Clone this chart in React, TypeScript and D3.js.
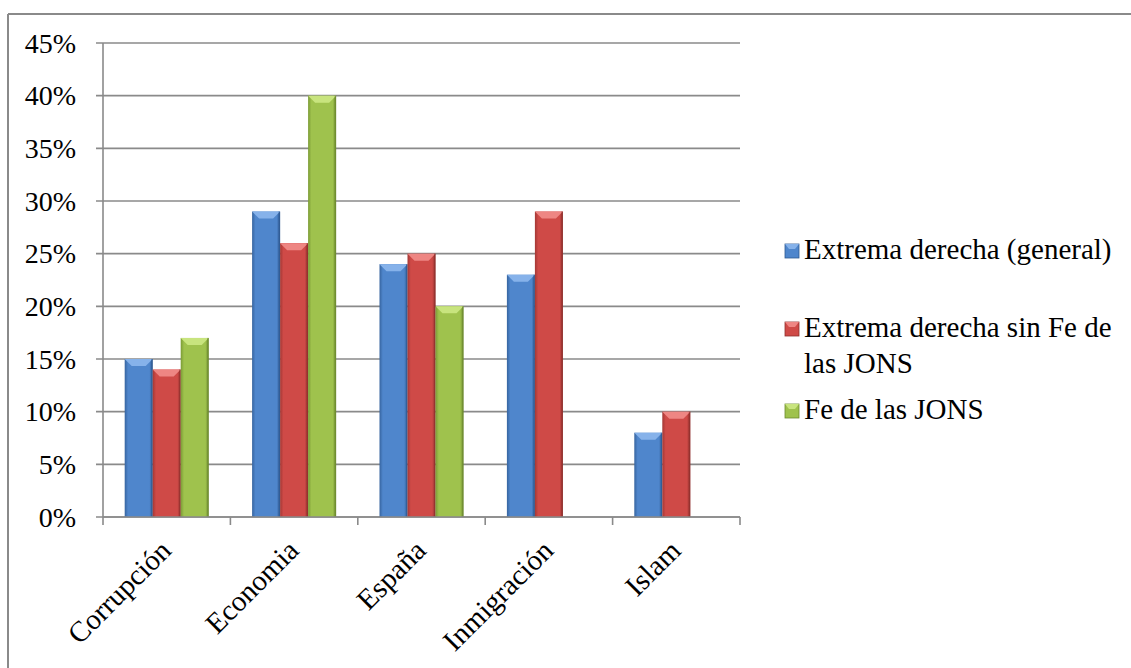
import React from "react";
import * as d3 from "d3";

const categories = ["Corrupción", "Economia", "España", "Inmigración", "Islam"];
const seriesNames = ["Extrema derecha (general)", "Extrema derecha sin Fe de las JONS", "Fe de las JONS"];
const generalValues = [0.15, 0.29, 0.24, 0.23, 0.08];
const sinFeValues = [0.14, 0.26, 0.25, 0.29, 0.10];
const feValues: (number | null)[] = [0.17, 0.40, 0.20, null, null];
const yTicks = [0, 0.05, 0.1, 0.15, 0.2, 0.25, 0.3, 0.35, 0.4, 0.45];
const legendLines = [["Extrema derecha (general)"], ["Extrema derecha sin Fe de", "las JONS"], ["Fe de las JONS"]];

const palettes = [
  { mid: "#4f86cc", edge: "#36649f", top: "#86b2ea", dark: "#2f5a92" },
  { mid: "#cf4a47", edge: "#a33835", top: "#ee8683", dark: "#8f302d" },
  { mid: "#9fc24d", edge: "#7b9b35", top: "#c8e47e", dark: "#6d8a2e" },
];

const W = 1131;
const H = 668;
const left = 103, right = 740, top = 43, bottom = 517;
const FONT = "Liberation Serif";
const txt = { fontFamily: FONT };

export default function App() {
  const series = [generalValues, sinFeValues, feValues];
  const x = d3.scaleBand<string>().domain(categories).range([left, right]).padding(0);
  const band = x.bandwidth();
  const barW = band * (28 / 127.4);
  const inner = d3.scaleBand<number>().domain([0, 1, 2]).range([(band - 3 * barW) / 2, (band + 3 * barW) / 2]).padding(0);
  const y = d3.scaleLinear().domain([0, 0.45]).range([bottom, top]);
  const fmt = d3.format(".0%");
  const gray = "#8a8a8a";

  return (
    <svg width={W} height={H} style={{ display: "block", position: "absolute", left: 0, top: 0 }}>
      <defs>
        {palettes.map((p, i) => (
          <linearGradient key={i} id={`g${i}`} x1="0" x2="1" y1="0" y2="0">
            <stop offset="0" stopColor={p.edge} />
            <stop offset="0.12" stopColor={p.mid} />
            <stop offset="0.5" stopColor={p.mid} />
            <stop offset="0.88" stopColor={p.mid} />
            <stop offset="1" stopColor={p.dark} />
          </linearGradient>
        ))}
      </defs>
      <rect x={0} y={0} width={W} height={H} fill="#fff" />
      <line x1={8} x2={W} y1={14} y2={14} stroke={gray} strokeWidth={2} />
      <line x1={8} x2={8} y1={14} y2={H} stroke={gray} strokeWidth={2} />

      {yTicks.map((t) => (
        <line key={t} x1={left - 7} x2={right} y1={y(t)} y2={y(t)} stroke={gray} strokeWidth={1.6} />
      ))}
      <line x1={left} x2={left} y1={top} y2={bottom} stroke={gray} strokeWidth={1.6} />
      {yTicks.map((t) => (
        <text key={t} x={76} y={y(t)} dy="0.35em" textAnchor="end" fontSize={28} fill="#000" style={txt}>
          {fmt(t)}
        </text>
      ))}

      {series.map((vals, si) =>
        categories.map((c, ci) => {
          const v = vals[ci];
          if (v == null) return null;
          const bx = (x(c) as number) + (inner(si) as number);
          const by = y(v);
          const bh = bottom - by;
          const p = palettes[si];
          const bev = Math.min(7, bh / 2);
          return (
            <g key={`${si}-${ci}`}>
              <rect x={bx} y={by} width={barW} height={bh} fill={`url(#g${si})`} />
              <polygon
                points={`${bx},${by} ${bx + barW},${by} ${bx + barW - 7},${by + bev} ${bx + 7},${by + bev}`}
                fill={p.top}
              />
              <rect x={bx + barW - 1.5} y={by} width={1.5} height={bh} fill={p.dark} opacity={0.6} />
            </g>
          );
        })
      )}

      <line x1={left} x2={right} y1={bottom} y2={bottom} stroke={gray} strokeWidth={1.6} />
      {[...categories.map((c) => x(c) as number), right].map((tx, i) => (
        <line key={i} x1={tx} x2={tx} y1={bottom} y2={bottom + 8} stroke={gray} strokeWidth={1.6} />
      ))}
      {categories.map((c) => {
        const cx = (x(c) as number) + band / 2;
        return (
          <text
            key={c}
            transform={`translate(${cx - 1},${bottom + 28}) rotate(-45)`}
            dy="0.35em"
            textAnchor="end"
            fontSize={29}
            fill="#000"
            style={txt}
          >
            {c}
          </text>
        );
      })}

      {legendLines.map((lines, i) => {
        const baselines = [259, 337, 419];
        const b = baselines[i];
        const p = palettes[i];
        return (
          <g key={seriesNames[i]}>
            <rect x={785} y={b - 15} width={14} height={14} fill={p.mid} stroke={p.dark} strokeWidth={0.8} />
            <polygon points={`${785},${b - 15} ${799},${b - 15} ${795},${b - 10} ${789},${b - 10}`} fill={p.top} />
            {lines.map((ln, li) => (
              <text key={li} x={804} y={b + li * 36} fontSize={29} fill="#000" style={txt}>
                {ln}
              </text>
            ))}
          </g>
        );
      })}
    </svg>
  );
}
